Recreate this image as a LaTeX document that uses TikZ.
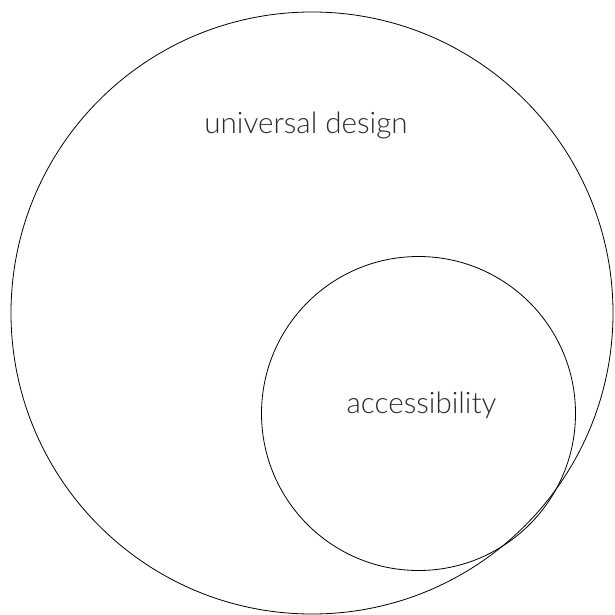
\documentclass[tikz,border=0pt]{standalone}
\usepackage{fontspec}
\setmainfont{Lato}[UprightFont=* Light]
\usepackage{tikz}
\usetikzlibrary {positioning}
\definecolor{inkgray}{HTML}{2B2B2B}
\tikzset{
         ring/.style={circle, draw=black, line width=0.8pt, inner sep=0pt},
         caption/.style={text=inkgray, font=\fontsize{29.6}{34}\selectfont, anchor=base},
}

\begin{document}
\begin{tikzpicture}[x=1pt, y=-1pt]
    \useasboundingbox (0,0) rectangle (614,615);
    % Kreise
    \node[ring, minimum size=602pt] (design) at (312,313) {};
    \node[ring, minimum size=314pt] (access) at (418.5,413.5) {};

    % Beschriftung
    \node[caption] (design_text) at (306,133) {universal design};
    \node[caption] (access_text) at (421.5,413) {accessibility};
\end{tikzpicture}
\end{document}
